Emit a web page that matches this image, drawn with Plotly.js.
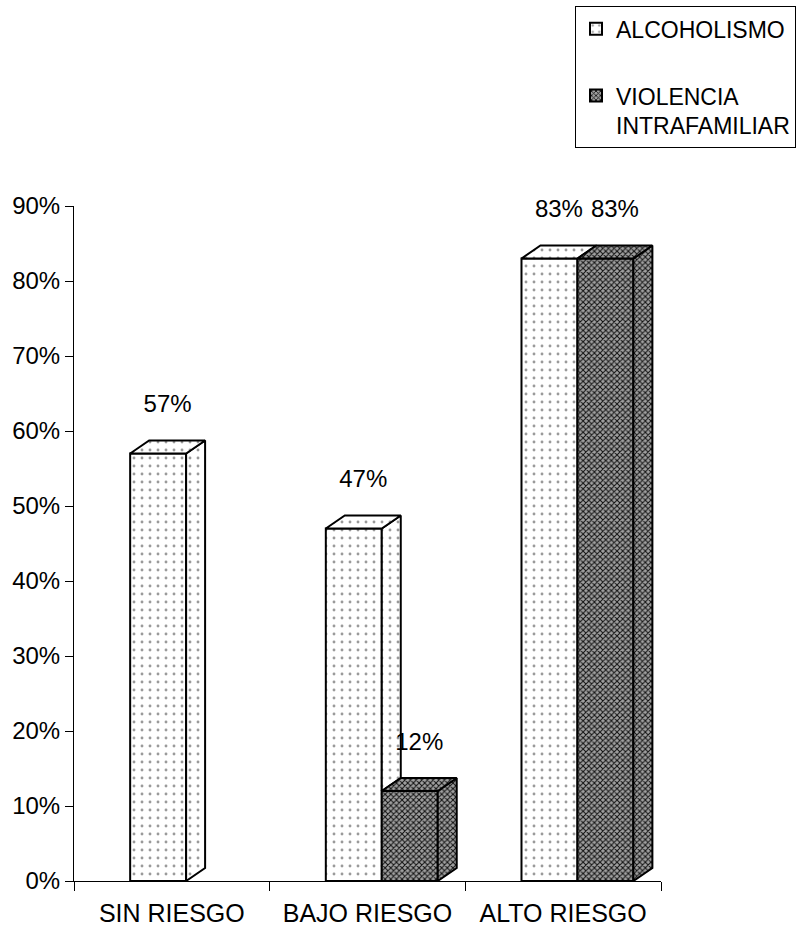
<!DOCTYPE html>
<html>
<head>
<meta charset="utf-8">
<script src="https://cdn.plot.ly/plotly-3.0.1.min.js"></script>
<style>html,body{margin:0;padding:0;background:#fff;}#chart{width:800px;height:926px;}</style>
</head>
<body>
<div id="chart"></div>
<script>
// ---- data ----
const categories = ['SIN RIESGO', 'BAJO RIESGO', 'ALTO RIESGO'];
const alcoholismo = [57, 47, 83];
const violencia = [null, 12, 83];
const seriesNames = ['ALCOHOLISMO', 'VIOLENCIA<br>INTRAFAMILIAR'];
const yTicks = [0, 10, 20, 30, 40, 50, 60, 70, 80, 90];

// ---- style constants (pseudo-3D geometry) ----
const OFF = -0.213, W = 0.286, DX = 0.097, DY = 1.73, LABEL_GAP = 6.3;
const FONT = 'Liberation Sans, Arial, sans-serif';
const alcFill = {color: '#ffffff', pattern: {shape: '.', fgcolor: '#9a9a9a', bgcolor: '#ffffff', size: 8, solidity: 0.1}};
const vioFill = {color: '#9a9a9a', pattern: {shape: 'x', fgcolor: '#111111', bgcolor: '#a0a0a0', size: 4, solidity: 0.45}};
const LINE = {color: '#000', width: 2};

const idx = categories.map((_, i) => i);

function polyTrace(polys, fill) {
  const xs = [], ys = [];
  polys.forEach(p => {
    p.concat([p[0]]).forEach(([x, y]) => { xs.push(x); ys.push(y); });
    xs.push(null); ys.push(null);
  });
  return {type: 'scatter', mode: 'lines', x: xs, y: ys, fill: 'toself',
    fillcolor: fill.color, fillpattern: fill.pattern, line: LINE, showlegend: false, hoverinfo: 'skip'};
}

// front faces
const alcBar = {type: 'bar', name: seriesNames[0], x: idx, y: alcoholismo, offset: OFF, width: W,
  marker: {color: alcFill.color, pattern: alcFill.pattern, line: LINE}, legendgroup: 'a'};
const vioBar = {type: 'bar', name: seriesNames[1], x: idx, y: violencia, offset: OFF + W, width: W,
  marker: {color: vioFill.color, pattern: vioFill.pattern, line: LINE}, legendgroup: 'b'};

// side and top faces computed from data
const alcSide = [], alcTop = [], vioSide = [], vioTop = [];
idx.forEach(i => {
  const a = alcoholismo[i], v = violencia[i];
  const x0 = i + OFF, xr = x0 + W;
  if (a != null) {
    const base = Math.min(v == null ? 0 : v, a);
    if (a > base) alcSide.push([[xr, base], [xr + DX, base + DY], [xr + DX, a + DY], [xr, a]]);
    alcTop.push([[x0, a], [xr, a], [xr + DX, a + DY], [x0 + DX, a + DY]]);
  }
  if (v != null) {
    const x1 = xr, x2 = xr + W;
    vioSide.push([[x2, 0], [x2 + DX, DY], [x2 + DX, v + DY], [x2, v]]);
    vioTop.push([[x1, v], [x2, v], [x2 + DX, v + DY], [x1 + DX, v + DY]]);
  }
});

// data labels
const lx = [], ly = [], lt = [];
idx.forEach(i => {
  if (alcoholismo[i] != null) { lx.push(i + OFF + W / 2 + DX / 2); ly.push(alcoholismo[i] + LABEL_GAP); lt.push(alcoholismo[i] + '%'); }
  if (violencia[i] != null) { lx.push(i + OFF + W + W / 2 + DX / 2); ly.push(violencia[i] + LABEL_GAP); lt.push(violencia[i] + '%'); }
});
const labels = {type: 'scatter', mode: 'text', x: lx, y: ly, text: lt, textposition: 'middle center',
  textfont: {family: FONT, size: 24, color: '#000'}, showlegend: false, hoverinfo: 'skip', cliponaxis: false};

const data = [alcBar, vioBar,
  polyTrace(alcSide, alcFill), polyTrace(alcTop, alcFill),
  polyTrace(vioSide, vioFill), polyTrace(vioTop, vioFill), labels];

const layout = {
  width: 800, height: 926,
  margin: {l: 74, r: 139, t: 206, b: 45, autoexpand: false},
  paper_bgcolor: '#fff', plot_bgcolor: '#fff',
  barmode: 'overlay',
  font: {family: FONT, size: 24, color: '#000'},
  xaxis: {
    type: 'linear', range: [-0.5, 2.5], tickvals: idx, ticktext: categories,
    ticks: '', ticklabelstandoff: 10, showgrid: false, zeroline: false,
    showline: true, linecolor: '#000', linewidth: 1,
    minor: {tick0: 0.5, dtick: 1, ticks: 'outside', ticklen: 9, tickcolor: '#000', showgrid: false},
    tickfont: {family: FONT, size: 25, color: '#000'}
  },
  yaxis: {
    range: [0, 90], tickvals: yTicks, ticktext: yTicks.map(t => t + '%'),
    ticks: 'outside', ticklen: 8, tickcolor: '#000', showgrid: false, zeroline: false,
    showline: true, linecolor: '#000', linewidth: 1,
    tickfont: {family: FONT, size: 24, color: '#000'}
  },
  legend: {
    x: 0.8535, y: 1.296, xanchor: 'left', yanchor: 'top',
    bordercolor: '#000', borderwidth: 1, bgcolor: '#fff',
    font: {family: FONT, size: 23, color: '#000'},
    traceorder: 'grouped', tracegroupgap: 34, valign: 'top'
  },
  showlegend: true
};

Plotly.newPlot('chart', data, layout, {staticPlot: true, displayModeBar: false});
</script>
</body>
</html>
